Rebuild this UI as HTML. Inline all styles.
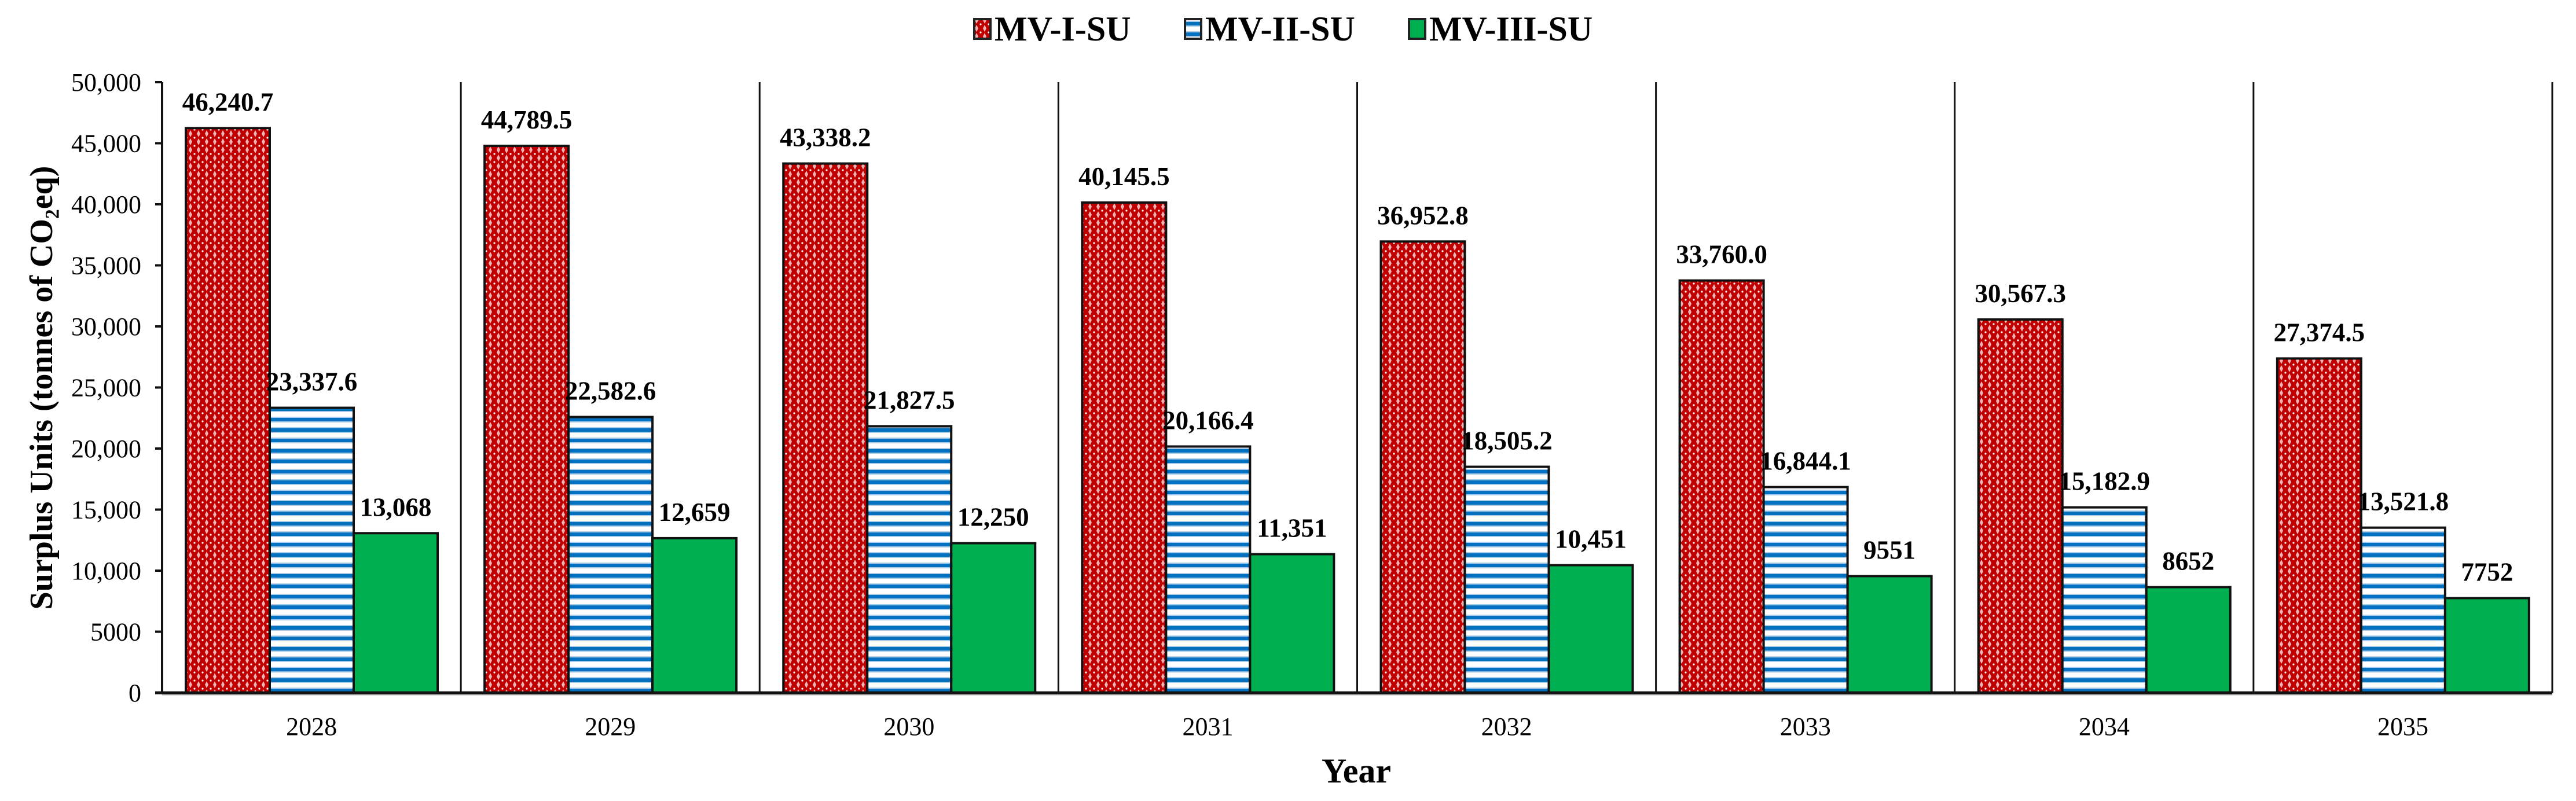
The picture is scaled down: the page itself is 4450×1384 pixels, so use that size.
<!DOCTYPE html>
<html><head><meta charset="utf-8"><style>
html,body{margin:0;padding:0;background:#fff;}
svg{display:block;font-family:"Liberation Serif",serif;}
</style></head><body>
<svg id="chart" width="4450" height="1384" viewBox="0 0 4450 1384" xmlns="http://www.w3.org/2000/svg">
<defs>
<pattern id="pRed" width="14" height="14" patternUnits="userSpaceOnUse">
<rect width="14" height="14" fill="#c00000"/>
<path d="M7 1 L10 7 L7 13 L4 7 Z" fill="#f4d6d6" opacity="0.85"/>
<circle cx="0" cy="0" r="1.6" fill="#fff"/><circle cx="14" cy="0" r="1.6" fill="#fff"/><circle cx="0" cy="14" r="1.6" fill="#fff"/><circle cx="14" cy="14" r="1.6" fill="#fff"/>
</pattern>
<pattern id="pBlue" width="20" height="18" patternUnits="userSpaceOnUse">
<rect width="20" height="18" fill="#fff"/>
<rect y="0" width="20" height="2" fill="#a9cbe8"/>
<rect y="2" width="20" height="6" fill="#0070c0"/>
<rect y="8" width="20" height="2" fill="#a9cbe8"/>
</pattern>
</defs>
<g id="legend">
<g><rect x="1683" y="33" width="28" height="34" fill="url(#pRed)" stroke="#222" stroke-width="4"/><text x="1718" y="70" font-size="60" font-weight="bold">MV-I-SU</text></g>
<g><rect x="2047" y="33" width="28" height="34" fill="url(#pBlue)" stroke="#222" stroke-width="4"/><text x="2082" y="70" font-size="60" font-weight="bold">MV-II-SU</text></g>
<g><rect x="2434" y="33" width="28" height="34" fill="#00b050" stroke="#222" stroke-width="4"/><text x="2469" y="70" font-size="60" font-weight="bold">MV-III-SU</text></g>
</g>
<text transform="translate(90,670) rotate(-90)" text-anchor="middle" font-size="56" font-weight="bold">Surplus Units (tonnes of CO₂eq)</text>
<text x="2343" y="1352" text-anchor="middle" font-size="60" font-weight="bold">Year</text>
<g id="plot"></g>
</svg>
<script>
const years = ["2028","2029","2030","2031","2032","2033","2034","2035"];
const mv1 = [46240.7,44789.5,43338.2,40145.5,36952.8,33760.0,30567.3,27374.5];
const mv2 = [23337.6,22582.6,21827.5,20166.4,18505.2,16844.1,15182.9,13521.8];
const mv3 = [13068,12659,12250,11351,10451,9551,8652,7752];
const yTicks = [0,5000,10000,15000,20000,25000,30000,35000,40000,45000,50000];

const NS="http://www.w3.org/2000/svg";
const plot=document.getElementById('plot');
const X0=280, X1=4409, Y0=1197, YTOP=142, YMAX=50000;
const gw=(X1-X0)/years.length, bw=145, off=41;
const y=v=>Y0-(v/YMAX)*(Y0-YTOP);
const gx=i=>X0+i*gw;
function mk(tag,attrs){const e=document.createElementNS(NS,tag);for(const k in attrs)e.setAttribute(k,attrs[k]);plot.appendChild(e);return e;}
function fmt(v,dec){if(v<10000)return dec?v.toFixed(1):String(Math.round(v));return v.toLocaleString('en-US',{minimumFractionDigits:dec,maximumFractionDigits:dec});}

for(let i=1;i<=years.length;i++){
  const l=mk('line',{x1:gx(i),x2:gx(i),y1:YTOP,y2:Y0,stroke:'#111','stroke-width':3});
  
  
}
const ya=mk('line',{x1:X0,x2:X0,y1:YTOP,y2:Y0,stroke:'#111','stroke-width':4});


yTicks.forEach(t=>{
  const tk=mk('line',{x1:X0-12,x2:X0,y1:y(t),y2:y(t),stroke:'#111','stroke-width':4});
  
  
  const tl=mk('text',{x:X0-36,y:y(t)+15,'text-anchor':'end','font-size':44});
  tl.textContent=t>=10000?t.toLocaleString('en-US'):String(t);
  
  
});
const series=[{d:mv1,fill:'url(#pRed)',dec:1,n:'mv-i-su'},{d:mv2,fill:'url(#pBlue)',dec:1,n:'mv-ii-su'},{d:mv3,fill:'#00b050',dec:0,n:'mv-iii-su'}];
years.forEach((yr,i)=>{
  series.forEach((s,j)=>{
    const x=gx(i)+off+j*bw, v=s.d[i];
    const r=mk('rect',{x:x,y:y(v),width:bw,height:Y0-y(v),fill:s.fill,stroke:'#111','stroke-width':4});
    
    
    const t=mk('text',{x:x+bw/2,y:y(v)-30,'text-anchor':'middle','font-size':45,'font-weight':'bold'});
    t.textContent=fmt(v,s.dec);
    
    
  });
  const xl=mk('text',{x:gx(i)+gw/2,y:1270,'text-anchor':'middle','font-size':44});
  xl.textContent=yr;
  
  
});
const xs=mk('line',{x1:X0,x2:X1,y1:Y0+3,y2:Y0+3,stroke:'#bbb','stroke-width':3});


const xa=mk('line',{x1:X0-12,x2:X1,y1:Y0,y2:Y0,stroke:'#111','stroke-width':5});


</script>
</body></html>
